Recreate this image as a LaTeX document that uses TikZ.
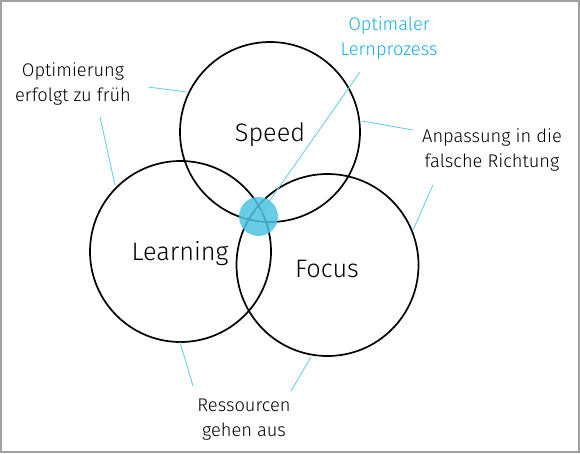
\documentclass[tikz,border=0pt]{standalone}
\usepackage{fontspec}
\setmainfont{Fira Sans Light}
\begin{document}
\begin{tikzpicture}[x=1pt,y=-1pt,
  ring/.style={draw=black,line width=1.7pt,circle,inner sep=0pt},
  lead/.style={draw=leadblue,line width=0.9pt},
  lbl/.style={align=center,font=\fontsize{18.3}{25}\selectfont,inner sep=0pt},
  big/.style={font=\fontsize{25.3}{28}\selectfont,inner sep=0pt}]
\definecolor{leadblue}{HTML}{6CCFEA}
\definecolor{dotblue}{HTML}{4FC3E3}
\definecolor{txtblue}{HTML}{1AAEE3}
\definecolor{frame}{HTML}{A0A0A0}
\useasboundingbox (0,0) rectangle (580,453);
\draw[frame,line width=2pt] (1,1) rectangle (579,452);
% circles
\node[ring,minimum size=180pt] (speed) at (270,132) {};
\node[ring,minimum size=181pt] (learn) at (180.5,251.5) {};
\node[ring,minimum size=182pt] (focus) at (327.5,265) {};
\node[big] (speedt) at (270,135) {Speed};
\node[big] (learnt) at (180,254) {Learning};
\node[big] (focust) at (327,269) {Focus};
% labels
\node[lbl] (opt) at (73,84) {Optimierung\\erfolgt zu früh};
\node[lbl,text=txtblue] (lern) at (389,38) {Optimaler\\Lernprozess};
\node[lbl] (anp) at (492,150) {Anpassung in die\\falsche Richtung};
\node[lbl] (res) at (244,420) {Ressourcen\\gehen aus};
% leader end points
\coordinate (o1a) at (148,87); \coordinate (o1b) at (187,92);
\coordinate (o2a) at (100,117); \coordinate (o2b) at (115,185);
\coordinate (a1a) at (413,130); \coordinate (a1b) at (362,121);
\coordinate (a2a) at (433,185); \coordinate (a2b) at (413,230);
\coordinate (r1a) at (193,386); \coordinate (r1b) at (180,342);
\coordinate (r2a) at (291,391); \coordinate (r2b) at (311,357);
\coordinate (l1a) at (360,72);
\draw[lead] (o1a) -- (o1b);
\draw[lead] (o2a) -- (o2b);
\draw[lead] (a1a) -- (a1b);
\draw[lead] (a2a) -- (a2b);
\draw[lead] (r1a) -- (r1b);
\draw[lead] (r2a) -- (r2b);
\node[circle,minimum size=39pt,inner sep=0pt] (dot) at (258.5,216.5) {};
\draw[lead] (l1a) -- (dot.center);
\fill[dotblue,opacity=0.85] (dot.center) circle (19.5);
\end{tikzpicture}
\end{document}
